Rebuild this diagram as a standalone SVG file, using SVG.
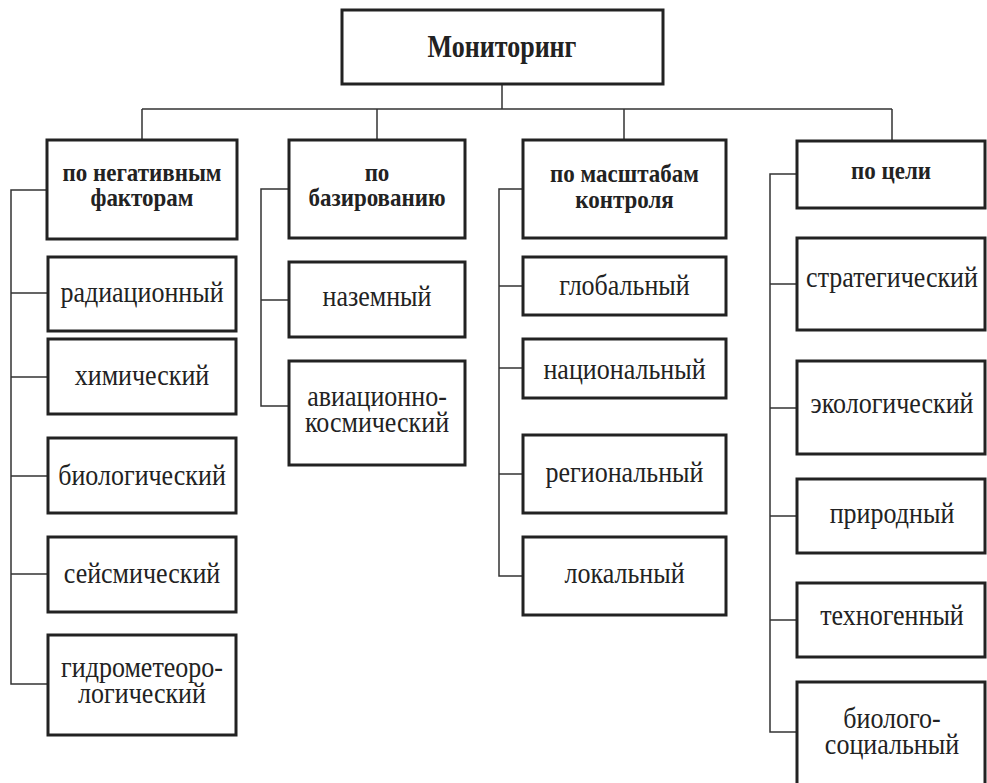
<svg xmlns="http://www.w3.org/2000/svg" width="987" height="783" viewBox="0 0 987 783">
<style>
.box{fill:#fff;stroke:#222;stroke-width:3}
.ln{fill:none;stroke:#333;stroke-width:1.5}
.t,.b,.r{font-family:"Liberation Serif","Times New Roman",serif;fill:#222;text-anchor:middle}
.t{font-size:26px;font-weight:normal}
.b{font-size:23px;font-weight:bold}
.r{font-size:26px;font-weight:bold}
</style>
<rect width="987" height="783" fill="#fff"/>
<g id="connectors" class="ln">
<path d="M502 84V109M142 109H892M142 109V140M377 109V140M624 109V140M892 109V141"/>
<path d="M47 190H11V684H48M11 293H48M11 377H48M11 476H48M11 574H48"/>
<path d="M289 189H261V406H289M261 300H289"/>
<path d="M523 189H499V576H523M499 286H523M499 368H523M499 474H523"/>
<path d="M797 174H770V732H797M770 284H797M770 408H797M770 516H797M770 620H797"/>
</g>
<g id="root"><rect class="box" x="342" y="10" width="321" height="74"/><text class="r" transform="translate(502 57) scale(1 1.25)">Мониторинг</text></g>
<g id="cat1"><rect class="box" x="47" y="140" width="190" height="99"/><text class="b" transform="translate(142 181) scale(1 1.1)">по негативным</text><text class="b" transform="translate(142 206) scale(1 1.1)">факторам</text></g>
<g id="cat2"><rect class="box" x="289" y="140" width="176" height="98"/><text class="b" transform="translate(377 181) scale(1 1.1)">по</text><text class="b" transform="translate(377 206) scale(1 1.1)">базированию</text></g>
<g id="cat3"><rect class="box" x="523" y="140" width="203" height="98"/><text class="b" transform="translate(624.5 182) scale(1 1.1)">по масштабам</text><text class="b" transform="translate(624.5 208) scale(1 1.1)">контроля</text></g>
<g id="cat4"><rect class="box" x="797" y="141" width="188" height="67"/><text class="b" transform="translate(891 179) scale(1 1.1)">по цели</text></g>
<g id="n11"><rect class="box" x="48" y="257" width="188" height="74"/><text class="t" transform="translate(142 302) scale(1 1.1)">радиационный</text></g>
<g id="n12"><rect class="box" x="48" y="339" width="188" height="75"/><text class="t" transform="translate(142 385) scale(1 1.1)">химический</text></g>
<g id="n13"><rect class="box" x="48" y="438" width="188" height="75"/><text class="t" transform="translate(142 485) scale(1 1.1)">биологический</text></g>
<g id="n14"><rect class="box" x="48" y="537" width="188" height="75"/><text class="t" transform="translate(142 583) scale(1 1.1)">сейсмический</text></g>
<g id="n15"><rect class="box" x="48" y="635" width="188" height="100"/><text class="t" transform="translate(142 677) scale(1 1.1)">гидрометеоро-</text><text class="t" transform="translate(142 703) scale(1 1.1)">логический</text></g>
<g id="n21"><rect class="box" x="289" y="262" width="176" height="75"/><text class="t" transform="translate(377 306) scale(1 1.1)">наземный</text></g>
<g id="n22"><rect class="box" x="289" y="361" width="176" height="104"/><text class="t" transform="translate(377 406) scale(1 1.1)">авиационно-</text><text class="t" transform="translate(377 432) scale(1 1.1)">космический</text></g>
<g id="n31"><rect class="box" x="523" y="257" width="203" height="58"/><text class="t" transform="translate(624.5 295) scale(1 1.1)">глобальный</text></g>
<g id="n32"><rect class="box" x="523" y="339" width="203" height="59"/><text class="t" transform="translate(624.5 379) scale(1 1.1)">национальный</text></g>
<g id="n33"><rect class="box" x="523" y="435" width="203" height="78"/><text class="t" transform="translate(624.5 482) scale(1 1.1)">региональный</text></g>
<g id="n34"><rect class="box" x="523" y="537" width="203" height="78"/><text class="t" transform="translate(624.5 583) scale(1 1.1)">локальный</text></g>
<g id="n41"><rect class="box" x="797" y="238" width="188" height="92"/><text class="t" transform="translate(892 287) scale(1 1.1)">стратегический</text></g>
<g id="n42"><rect class="box" x="797" y="361" width="188" height="93"/><text class="t" transform="translate(892 413) scale(1 1.1)">экологический</text></g>
<g id="n43"><rect class="box" x="797" y="479" width="188" height="74"/><text class="t" transform="translate(892 523) scale(1 1.1)">природный</text></g>
<g id="n44"><rect class="box" x="797" y="583" width="188" height="74"/><text class="t" transform="translate(892 625) scale(1 1.1)">техногенный</text></g>
<g id="n45"><rect class="box" x="797" y="682" width="188" height="130"/><text class="t" transform="translate(892 728) scale(1 1.1)">биолого-</text><text class="t" transform="translate(892 754) scale(1 1.1)">социальный</text></g>
</svg>
